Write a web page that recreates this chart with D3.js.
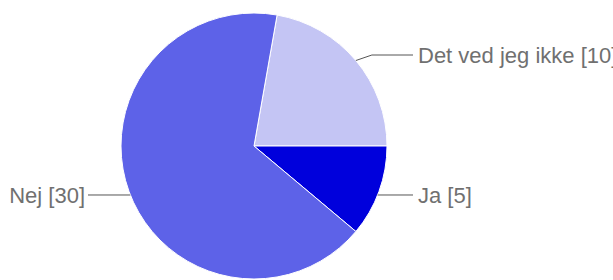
<!DOCTYPE html>
<html>
<head>
<meta charset="utf-8">
<script src="https://cdn.jsdelivr.net/npm/d3@7"></script>
<style>
  html, body { margin: 0; padding: 0; background: #fff; }
  svg { display: block; }
</style>
</head>
<body>
<div id="chart"></div>
<script>
// data
const answers = ["Det ved jeg ikke", "Ja", "Nej"];
const counts = [10, 5, 30];
const sliceColors = ["#c4c5f4", "#0000dc", "#5d62e8"];

const width = 613, height = 280;
const cx = 254, cy = 146, radius = 133;

const svg = d3.select("#chart").append("svg")
  .attr("width", width)
  .attr("height", height);

const g = svg.append("g").attr("transform", `translate(${cx},${cy})`);

const slices = answers.map((a, i) => ({ answer: a, count: counts[i], color: sliceColors[i] }));

// first slice starts a little past 12 o'clock, going clockwise
const total = d3.sum(counts);
const offset = Math.PI / 2 - 2 * Math.PI * counts[0] / total;
const pie = d3.pie().value(d => d.count).sort(null)
  .startAngle(offset).endAngle(offset + 2 * Math.PI);

const arc = d3.arc().innerRadius(0).outerRadius(radius);

const arcs = pie(slices);

g.selectAll("path.slice")
  .data(arcs)
  .enter().append("path")
    .attr("class", "slice")
    .attr("d", arc)
    .attr("fill", d => d.data.color)
    .attr("stroke", "#fff")
    .attr("stroke-width", 1);

// labels with leader lines
arcs.forEach(d => {
  const mid = (d.startAngle + d.endAngle) / 2;
  const ax = radius * Math.sin(mid);
  const ay = -radius * Math.cos(mid);
  const right = ax > 0;
  const ly = ay < -40 ? ay - 5.5 : ay + 3.5;
  const lineEnd = right ? 159 : -166;
  // left/right labels sit level with the edge point, upper one bends
  const elbow = ay < -40 ? ax + 16 : ax + (right ? 1 : -1);
  const startY = ay < -40 ? ay : ly;
  const startX = ay < -40 ? ax : (right ? 1 : -1) * Math.sqrt(radius * radius - ly * ly);

  g.append("polyline")
    .attr("points", [[startX, startY], [elbow, ly], [lineEnd, ly]].map(p => p.join(",")).join(" "))
    .attr("fill", "none")
    .attr("stroke", "#555")
    .attr("stroke-width", 1);

  g.append("text")
    .attr("x", right ? lineEnd + 5 : -169)
    .attr("y", ly)
    .attr("dy", "0.35em")
    .attr("text-anchor", right ? "start" : "end")
    .attr("font-family", "Liberation Sans, Arial, sans-serif")
    .attr("font-size", 22)
    .attr("fill", "#707070")
    .text(`${d.data.answer} [${d.data.count}]`);
});
</script>
</body>
</html>
